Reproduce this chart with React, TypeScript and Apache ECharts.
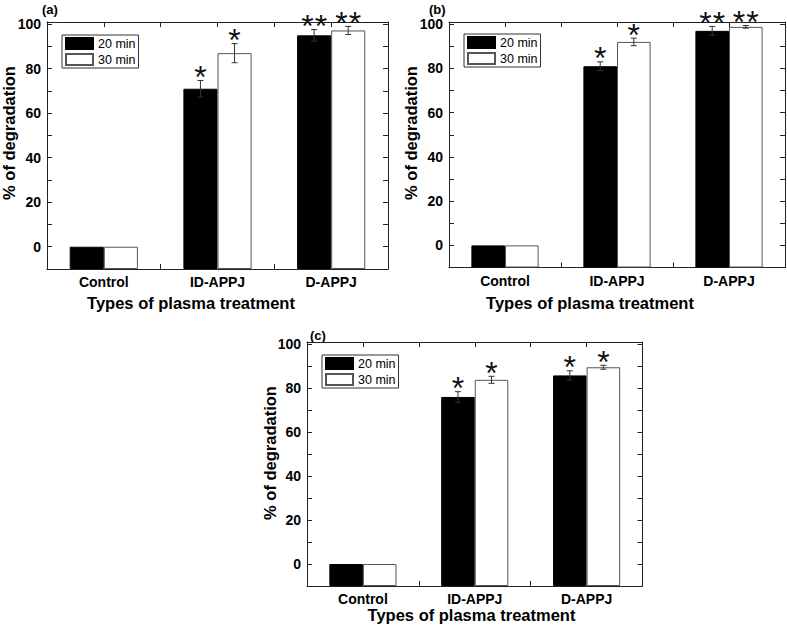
import React, { useEffect, useRef } from 'react';
import * as echarts from 'echarts';

const categories = ['Control', 'ID-APPJ', 'D-APPJ'];
const seriesNames = ['20 min', '30 min'];
const yTickLabels = [0, 20, 40, 60, 80, 100];
const panelLabels = ['(a)', '(b)', '(c)'];
const xTitle = 'Types of plasma treatment';
const yTitle = '% of degradation';

// Panel (a)
const a20 = [0, 71, 95];
const a20Err = [0, 3.7, 2.6];
const a30 = [0, 87, 97.2];
const a30Err = [0, 4.3, 1.8];
const a20Stars = ['', '*', '**'];
const a30Stars = ['', '*', '**'];

// Panel (b)
const b20 = [0, 81, 97];
const b20Err = [0, 2.0, 2.0];
const b30 = [0, 92, 98.8];
const b30Err = [0, 1.7, 0.6];
const b20Stars = ['', '*', '**'];
const b30Stars = ['', '*', '**'];

// Panel (c)
const c20 = [0, 76, 85.8];
const c20Err = [0, 2.4, 2.1];
const c30 = [0, 83.8, 89.5];
const c30Err = [0, 1.6, 0.9];
const c20Stars = ['', '*', '*'];
const c30Stars = ['', '*', '*'];

const FONT = '"Liberation Sans", Arial, sans-serif';

const panels = [
  { s20: a20, e20: a20Err, st20: a20Stars, s30: a30, e30: a30Err, st30: a30Stars,
    grid: { left: 47, top: 22, width: 341, height: 247 },
    legend: { left: 62, top: 35 },
    label: { x: 42, y: 3 }, xt: { x: 191, y: 303 }, yt: { x: 9, y: 133 } },
  { s20: b20, e20: b20Err, st20: b20Stars, s30: b30, e30: b30Err, st30: b30Stars,
    grid: { left: 449, top: 22, width: 336, height: 245.5 },
    legend: { left: 464, top: 34 },
    label: { x: 429, y: 3 }, xt: { x: 590, y: 303 }, yt: { x: 410.5, y: 133 } },
  { s20: c20, e20: c20Err, st20: c20Stars, s30: c30, e30: c30Err, st30: c30Stars,
    grid: { left: 307, top: 342, width: 335.5, height: 244 },
    legend: { left: 322, top: 355 },
    label: { x: 310, y: 329 }, xt: { x: 471.5, y: 615 }, yt: { x: 269.5, y: 453 } },
];

function makeErrSeries(vals: number[], errs: number[], stars: string[], side: number, xi: number, yi: number) {
  return {
    type: 'custom',
    xAxisIndex: xi,
    yAxisIndex: yi,
    clip: false,
    z: 5,
    silent: true,
    data: vals.map((v, i) => [i, v, errs[i]]),
    encode: { x: 0, y: 1 },
    renderItem: (params: any, api: any) => {
      const idx = api.value(0);
      const v = api.value(1);
      const e = api.value(2);
      const catW = api.size([1, 0])[0];
      const cx = api.coord([idx, v])[0] + side * catW * 0.15;
      const yTop = api.coord([idx, v + e])[1];
      const yBot = api.coord([idx, v - e])[1];
      const children: any[] = [];
      if (e > 0) {
        const st = { stroke: '#333', lineWidth: 1 };
        children.push({ type: 'line', shape: { x1: cx, y1: yTop, x2: cx, y2: yBot }, style: st });
        children.push({ type: 'line', shape: { x1: cx - 3, y1: yTop, x2: cx + 3, y2: yTop }, style: st });
        children.push({ type: 'line', shape: { x1: cx - 3, y1: yBot, x2: cx + 3, y2: yBot }, style: st });
      }
      const s = stars[params.dataIndex] || '';
      const n = s.length;
      for (let i = 0; i < n; i++) {
        children.push({
          type: 'text',
          x: cx + (i - (n - 1) / 2) * 13.5,
          y: yTop - 3.5,
          style: {
            text: '*',
            fontSize: 32,
            fontFamily: FONT,
            fill: '#111',
            align: 'center',
            verticalAlign: 'middle',
          },
        });
      }
      return { type: 'group', children };
    },
  };
}

export default function App() {
  const ref = useRef<HTMLDivElement>(null);
  useEffect(() => {
    const chart = echarts.init(ref.current!, null, { renderer: 'svg' });
    const grids: any[] = [];
    const xAxes: any[] = [];
    const yAxes: any[] = [];
    const series: any[] = [];
    const legends: any[] = [];
    const graphics: any[] = [];
    const axisLine = { show: true, onZero: false, lineStyle: { color: '#222', width: 1 } };
    const axisTick = { show: true, inside: true, length: 5, lineStyle: { color: '#222', width: 1 } };

    panels.forEach((p, pi) => {
      grids.push({ ...p.grid, containLabel: false, outerBoundsMode: 'none' });
      const xb = xAxes.length;
      xAxes.push({
        type: 'category', gridIndex: pi, position: 'bottom', data: categories,
        axisLine, axisTick: { ...axisTick, interval: 0 },
        axisLabel: { fontFamily: FONT, fontWeight: 'bold', fontSize: 14, color: '#000', margin: 6 },
        splitLine: { show: false },
      });
      xAxes.push({
        type: 'category', gridIndex: pi, position: 'top', data: ['', '', '', '', '', ''],
        axisLine, axisTick: { ...axisTick, interval: 0 }, axisLabel: { show: false }, splitLine: { show: false },
      });
      const yl = yAxes.length;
      yAxes.push({
        type: 'value', gridIndex: pi, position: 'left', min: -10, max: 101, interval: 10, startValue: -10,
        axisLine, axisTick,
        axisLabel: {
          fontFamily: FONT, fontWeight: 'bold', fontSize: 14, color: '#000', margin: 6,
          formatter: (v: number) => (yTickLabels.indexOf(v) >= 0 ? String(v) : ''),
        },
        splitLine: { show: false },
      });
      yAxes.push({
        type: 'value', gridIndex: pi, position: 'right', min: -10, max: 101, interval: 10,
        axisLine, axisTick, axisLabel: { show: false }, splitLine: { show: false },
      });
      series.push({
        type: 'bar', name: seriesNames[0], xAxisIndex: xb, yAxisIndex: yl, data: p.s20,
        barWidth: '30%', barGap: '0%',
        itemStyle: { color: '#000', borderColor: '#000', borderWidth: 1 },
      });
      series.push({
        type: 'bar', name: seriesNames[1], xAxisIndex: xb, yAxisIndex: yl, data: p.s30,
        barWidth: '30%', barGap: '0%',
        itemStyle: { color: '#fff', borderColor: '#555', borderWidth: 1 },
      });
      series.push(makeErrSeries(p.s20, p.e20, p.st20, -1, xb, yl));
      series.push(makeErrSeries(p.s30, p.e30, p.st30, 1, xb, yl));
      legends.push({
        data: seriesNames, left: p.legend.left, top: p.legend.top, orient: 'vertical',
        itemWidth: 27, itemHeight: 11, itemGap: 3, padding: [2, 3, 2, 3],
        borderColor: '#333', borderWidth: 1, icon: 'rect', selectedMode: false,
        textStyle: { fontFamily: FONT, fontSize: 12.5, color: '#000' },
      });
      graphics.push({
        type: 'text', left: p.label.x, top: p.label.y,
        style: { text: panelLabels[pi], fontFamily: FONT, fontWeight: 'bold', fontSize: 13, fill: '#000' },
      });
      graphics.push({
        type: 'text', x: p.xt.x, y: p.xt.y,
        style: { text: xTitle, fontFamily: FONT, fontWeight: 'bold', fontSize: 16.5, fill: '#000', align: 'center', verticalAlign: 'middle' },
      });
      graphics.push({
        type: 'text', x: p.yt.x, y: p.yt.y, rotation: Math.PI / 2,
        style: { text: yTitle, fontFamily: FONT, fontWeight: 'bold', fontSize: 16.5, fill: '#000', align: 'center', verticalAlign: 'middle' },
      });
    });

    chart.setOption({
      animation: false,
      backgroundColor: '#fff',
      grid: grids,
      xAxis: xAxes,
      yAxis: yAxes,
      series,
      legend: legends,
      graphic: graphics,
    });
    return () => chart.dispose();
  }, []);
  return <div ref={ref} style={{ width: 787, height: 633, position: 'fixed', left: 0, top: 0 }} />;
}
